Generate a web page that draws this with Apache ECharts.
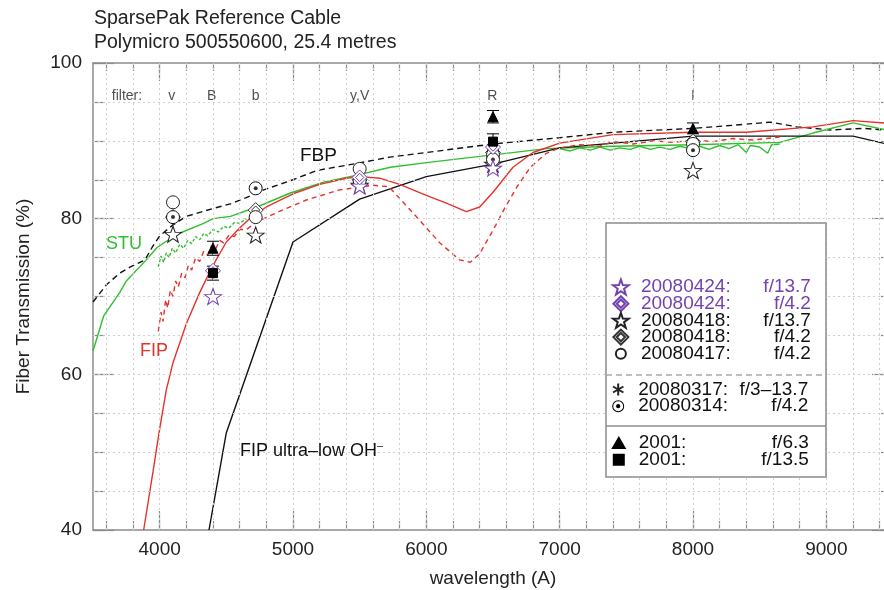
<!DOCTYPE html>
<html>
<head>
<meta charset="utf-8">
<title>SparsePak Reference Cable</title>
<script src="https://cdn.jsdelivr.net/npm/echarts@6/dist/echarts.min.js"></script>
<style>
  html, body { margin: 0; padding: 0; background: #fff; }
  #chart { width: 884px; height: 590px; }
</style>
</head>
<body>
<div id="chart"></div>
<script>
// axis ticks
const xMajor = [4000, 5000, 6000, 7000, 8000, 9000]
const xMinor = [3600, 3800, 4000, 4200, 4400, 4600, 4800, 5000, 5200, 5400, 5600, 5800, 6000, 6200, 6400,
  6600, 6800, 7000, 7200, 7400, 7600, 7800, 8000, 8200, 8400, 8600, 8800, 9000, 9200, 9400]
const yGrid = [45, 50, 55, 60, 65, 70, 75, 80, 85, 90, 95]

// filter labels along the top
const filterNames = ['filter:', 'v', 'B', 'b', 'y,V', 'R', 'I']
const filterX = [3755, 4090, 4390, 4720, 5500, 6495, 8000]
const filterY = 95.8

// transmission curves [wavelength, %]
const fbp = [[3500, 69.3], [3600, 71.5], [3700, 73], [3780, 73.8], [3890, 74.7], [3950, 76.5], [4000, 77.8],
  [4100, 79.2], [4200, 80.3], [4400, 81.3], [4530, 81.9], [4650, 82.7], [4780, 83.7], [5000, 85],
  [5180, 86.2], [5480, 87.1], [5725, 87.9], [6000, 88.5], [6500, 89.6], [7000, 90.4], [7400, 91.1],
  [8000, 91.6], [8300, 92], [8580, 92.4], [8780, 91.8], [9030, 91.4], [9280, 91.6], [9500, 91.3]]
const stu = [[3500, 63], [3580, 67.5], [3700, 70.5], [3750, 72], [3910, 74.9], [3980, 76.3], [4130, 78],
  [4330, 79.4], [4400, 80], [4530, 80.3], [4730, 81.5], [4980, 83.3], [5230, 84.7], [5480, 85.6],
  [5730, 86.6], [6000, 87.2], [6500, 88.2], [6900, 89], [7400, 89.3], [8000, 89.5], [8650, 89.8],
  [8900, 91], [9200, 92.3], [9500, 91.2]]
const stuNoisyBlue = [[3990, 73.8], [4010, 75.2], [4030, 74.4], [4050, 75.6], [4070, 75], [4095, 76.2],
  [4120, 75.6], [4150, 76.7], [4180, 76.2], [4210, 77.2], [4240, 76.8], [4270, 77.7], [4300, 77.3],
  [4330, 78.1], [4360, 77.8], [4400, 78.6], [4440, 78.3], [4480, 79], [4520, 78.8], [4560, 79.5],
  [4600, 79.4], [4650, 80]]
const stuNoisyRed = [[7000, 89.0], [7080, 88.7], [7150, 89.1], [7230, 88.8], [7300, 89.2], [7380, 88.8],
  [7450, 89.1], [7530, 88.9], [7600, 89.3], [7680, 88.9], [7750, 89.2], [7830, 88.9], [7900, 89.3],
  [7980, 89.0], [8050, 89.3], [8120, 88.9], [8200, 89.4], [8270, 89.0], [8340, 89.5], [8400, 88.5],
  [8430, 89.4], [8500, 89.2], [8560, 88.4], [8590, 89.5], [8650, 89.6]]
const fip = [[3880, 40], [3950, 47.5], [4000, 53], [4050, 58], [4100, 61.5], [4200, 66.5], [4300, 70.5],
  [4400, 74], [4500, 77], [4600, 78.8], [4700, 80.4], [4800, 81.5], [5000, 83.2], [5200, 84.4],
  [5400, 85.2], [5500, 85.4], [5650, 85.2], [5800, 84.4], [5900, 83.7], [6000, 83], [6150, 82],
  [6300, 80.9], [6400, 81.5], [6500, 83.4], [6650, 86.6], [6800, 88.5], [7000, 89.7], [7400, 90.8],
  [8000, 91.1], [8400, 91.1], [8900, 91.8], [9200, 92.6], [9500, 92.2]]
const fipDashed = [[3990, 65.5], [4010, 68], [4025, 66.8], [4045, 69.6], [4060, 68.5], [4080, 70.8],
  [4100, 70], [4120, 72], [4140, 71.2], [4165, 73], [4190, 72.4], [4215, 74], [4240, 73.4], [4270, 75],
  [4300, 74.5], [4330, 75.8], [4360, 75.3], [4390, 76.6], [4420, 76.1], [4450, 77.2], [4480, 76.9],
  [4520, 77.9], [4560, 77.7], [4600, 78.6], [4650, 78.6], [4730, 79.6], [4880, 80.8], [5100, 82.4],
  [5350, 83.7], [5600, 84.3], [5720, 84.1], [5800, 82.6], [5950, 79.8], [6100, 76.9], [6250, 74.7],
  [6330, 74.4], [6400, 75.5], [6500, 78.5], [6580, 81.1], [6680, 84.1], [6780, 86.6], [6900, 88.4],
  [7000, 89.1], [7150, 89.5], [7300, 89.3], [7400, 89.9], [7550, 89.6], [7700, 90], [7850, 89.8],
  [8000, 90.1], [8150, 89.9], [8300, 90.3], [8450, 90.1], [8650, 90.5]]
const fipUltraLowOH = [[4370, 40], [4500, 52.5], [5000, 77], [5500, 82.5], [6000, 85.4], [6500, 87],
  [7000, 89.1], [8000, 90.6], [9200, 90.6], [9500, 89.4]]

// measured points [wavelength, %] (2001: [wavelength, %, error])
const p20080424f137 = [[4400, 70.0], [5500, 84.2], [6500, 86.5]]
const p20080424f42 = [[4400, 73.3], [5500, 85.3], [6500, 89.2]]
const p20080418f137 = [[4100, 78.0], [4720, 77.9], [5500, 84.3], [6500, 87.0], [8000, 86.2]]
const p20080418f42 = [[4100, 80.2], [4720, 81.1], [5500, 85.0], [6500, 88.5], [8000, 89.9]]
const p20080417f42 = [[4100, 82.1], [4720, 80.2], [5500, 86.4], [6500, 88.2], [8000, 89.6]]
const p20080317 = []
const p20080314f42 = [[4100, 80.2], [4720, 83.9], [5500, 84.9], [6500, 87.6], [8000, 88.8]]
const p2001f63 = [[4400, 76.2, 0.9], [6500, 93.1, 0.8], [8000, 91.6, 0.7]]
const p2001f135 = [[4400, 73.0, 0.9], [6500, 89.9, 1.0]]

const FONT = '"Liberation Sans", Arial, sans-serif'
const PURPLE = '#7442b0'
const GREEN = '#2fbf2f'
const RED = '#e5322b'
const FRAME = '#8c8c8c'

const STAR = 'path://M0,-10 L2.35,-3.24 L9.51,-3.09 L3.8,1.24 L5.88,8.09 L0,4 L-5.88,8.09 L-3.8,1.24 L-9.51,-3.09 L-2.35,-3.24 Z'
const DIAMOND2 = 'path://M0,-10 L10,0 L0,10 L-10,0 Z M0,-5.5 L5.5,0 L0,5.5 L-5.5,0 Z'
const ASTER = 'path://M0,-10 L0,10 M-8.66,-5 L8.66,5 M-8.66,5 L8.66,-5'
const RINGDOT = 'path://M0,-10 A10,10 0 1,1 0,10 A10,10 0 1,1 0,-10 Z M0,-8.3 A8.3,8.3 0 1,0 0,8.3 A8.3,8.3 0 1,0 0,-8.3 Z M0,-3.6 A3.6,3.6 0 1,1 0,3.6 A3.6,3.6 0 1,1 0,-3.6 Z'
const TRI = 'path://M0,-5 L5.5,4.5 L-5.5,4.5 Z'
const SQUARE = 'path://M-5,-5 L5,-5 L5,5 L-5,5 Z'

function curve(name, data, color, type) {
  return {
    name: name, type: 'line', data: data, showSymbol: false, symbol: 'none', silent: true, z: 2,
    lineStyle: { color: color, width: 1.4, type: type || 'solid' }
  }
}

function marker(name, data, symbol, size, color, fill) {
  return {
    name: name, type: 'scatter', data: data, symbol: symbol, symbolSize: size, silent: true, z: 5,
    itemStyle: { color: fill, borderColor: color, borderWidth: 1, opacity: 1 }
  }
}

function renderErr(params, api) {
  const x = api.value(0), y = api.value(1), e = api.value(2)
  const hi = api.coord([x, y + e])
  const lo = api.coord([x, y - e])
  const w = 6
  const st = { stroke: '#000', lineWidth: 1 }
  return {
    type: 'group',
    children: [
      { type: 'line', shape: { x1: hi[0], y1: hi[1], x2: lo[0], y2: lo[1] }, style: st },
      { type: 'line', shape: { x1: hi[0] - w, y1: hi[1], x2: hi[0] + w, y2: hi[1] }, style: st },
      { type: 'line', shape: { x1: lo[0] - w, y1: lo[1], x2: lo[0] + w, y2: lo[1] }, style: st }
    ]
  }
}

function legendText(name) {
  const parts = name.split(': ')
  const p = name.indexOf('20080424') === 0 ? 'p' : ''
  return '{d' + p + '|' + parts[0] + ':}{f' + p + '|' + parts[1] + '}'
}

const rich = {
  d: { width: 100, fontSize: 19, lineHeight: 16, fontFamily: FONT, color: '#111' },
  f: { width: 70, align: 'right', fontSize: 19, lineHeight: 16, fontFamily: FONT, color: '#111' },
  dp: { width: 100, fontSize: 19, lineHeight: 16, fontFamily: FONT, color: PURPLE },
  fp: { width: 70, align: 'right', fontSize: 19, lineHeight: 16, fontFamily: FONT, color: PURPLE }
}

function legendBlock(top, iconH, data) {
  return {
    orient: 'vertical', left: 607, top: top, itemWidth: 30, itemHeight: iconH, itemGap: -2.3,
    selectedMode: false, z: 120, formatter: legendText,
    textStyle: { rich: rich, fontFamily: FONT, fontSize: 19 },
    data: data
  }
}

const chart = echarts.init(document.getElementById('chart'))

const labelStyle = { color: '#222', fontSize: 19, fontFamily: FONT }

const option = {
  animation: false,
  backgroundColor: '#fff',
  title: {
    text: 'SparsePak Reference Cable\nPolymicro 500550600, 25.4 metres',
    left: 89, top: 2,
    textStyle: { fontSize: 19.5, fontWeight: 'normal', fontFamily: FONT, color: '#222', lineHeight: 24 }
  },
  grid: { left: 93, right: -9, top: 63, bottom: 60, outerBoundsMode: 'none', containLabel: false },
  xAxis: [
    {
      type: 'value', position: 'bottom', min: 3500, max: 9500,
      name: 'wavelength (A)', nameLocation: 'middle', nameGap: 39,
      nameTextStyle: labelStyle,
      axisLine: { lineStyle: { color: FRAME, width: 1.5 } },
      axisTick: { inside: true, length: 19, customValues: xMajor, lineStyle: { color: FRAME, width: 1.2 } },
      axisLabel: { customValues: xMajor, margin: 10, formatter: v => String(v), ...labelStyle },
      splitLine: { show: false }
    },
    {
      type: 'value', position: 'bottom', min: 3500, max: 9500,
      axisLine: { show: false },
      axisTick: { inside: true, length: 9, customValues: xMinor, lineStyle: { color: FRAME, width: 1.2 } },
      axisLabel: { show: false }, splitLine: { show: false }
    },
    {
      type: 'value', position: 'top', min: 3500, max: 9500,
      axisLine: { lineStyle: { color: FRAME, width: 1.5 } },
      axisTick: { inside: true, length: 18, customValues: xMajor, lineStyle: { color: FRAME, width: 1.2 } },
      axisLabel: { show: false }, splitLine: { show: false }
    },
    {
      type: 'value', position: 'top', min: 3500, max: 9500,
      axisLine: { show: false },
      axisTick: { inside: true, length: 8, customValues: xMinor, lineStyle: { color: FRAME, width: 1.2 } },
      axisLabel: { show: false }, splitLine: { show: false }
    }
  ],
  yAxis: [
    {
      type: 'value', position: 'left', min: 40, max: 100, interval: 20,
      name: 'Fiber Transmission (%)', nameLocation: 'middle', nameGap: 60, nameRotate: 90,
      nameTextStyle: labelStyle,
      axisLine: { show: true, lineStyle: { color: FRAME, width: 1.5 } },
      axisTick: { show: true, inside: true, length: 21, lineStyle: { color: FRAME, width: 1.2 } },
      axisLabel: { margin: 11, ...labelStyle },
      splitLine: { show: false }
    },
    {
      type: 'value', position: 'left', min: 40, max: 100, interval: 5,
      axisLine: { show: false },
      axisTick: { show: true, inside: true, length: 12, lineStyle: { color: FRAME, width: 1.2 } },
      axisLabel: { show: false }, splitLine: { show: false }
    },
    {
      type: 'value', position: 'right', min: 40, max: 100, interval: 20,
      axisLine: { show: true, lineStyle: { color: FRAME, width: 1.5 } },
      axisTick: { show: true, inside: true, length: 21, lineStyle: { color: FRAME, width: 1.2 } },
      axisLabel: { show: false }, splitLine: { show: false }
    },
    {
      type: 'value', position: 'right', min: 40, max: 100, interval: 5,
      axisLine: { show: false },
      axisTick: { show: true, inside: true, length: 12, lineStyle: { color: FRAME, width: 1.2 } },
      axisLabel: { show: false }, splitLine: { show: false }
    }
  ],
  legend: [
    legendBlock(272.5, 15, ['20080424: f/13.7', '20080424: f/4.2', '20080418: f/13.7', '20080418: f/4.2',
      { name: '20080417: f/4.2', icon: 'path://M0,-10 A10,10 0 1,1 0,10 A10,10 0 1,1 0,-10 Z M0,-15 M0,15' }]),
    legendBlock(375, 12, ['20080317: f/3–13.7', { name: '20080314: f/4.2', icon: RINGDOT, itemStyle: { color: '#000', borderWidth: 0 } }]),
    legendBlock(428.5, 10, [{ name: '2001: f/6.3', icon: TRI }, { name: '2001: f/13.5', icon: SQUARE }])
  ],
  graphic: [
    { type: 'rect', z: 100, shape: { x: 606, y: 223, width: 220, height: 254 },
      style: { fill: '#fff', stroke: FRAME, lineWidth: 1.5 } },
    { type: 'line', z: 101, shape: { x1: 606, y1: 375, x2: 826, y2: 375 },
      style: { stroke: '#a8a8a8', lineWidth: 1.5, lineDash: [6, 4] } },
    { type: 'line', z: 101, shape: { x1: 606, y1: 426, x2: 826, y2: 426 },
      style: { stroke: FRAME, lineWidth: 1.5 } },
    { type: 'text', left: 106, top: 235, z: 50, style: { text: 'STU', fill: GREEN, fontSize: 18, fontFamily: FONT } },
    { type: 'text', left: 140, top: 342, z: 50, style: { text: 'FIP', fill: RED, fontSize: 18, fontFamily: FONT } },
    { type: 'text', left: 300, top: 146, z: 50, style: { text: 'FBP', fill: '#111', fontSize: 19, fontFamily: FONT } },
    { type: 'text', left: 240, top: 440, z: 50, style: {
      text: '{n|FIP ultra–low OH}{s|–}', fill: '#111',
      rich: { n: { fontSize: 18, fontFamily: FONT, color: '#111' },
              s: { fontSize: 11, fontFamily: FONT, color: '#111', padding: [0, 0, 12, 0] } } } }
  ],
  series: [
    {
      type: 'line', data: [], silent: true, z: 1,
      markLine: {
        silent: true, symbol: ['none', 'none'], label: { show: false }, animation: false,
        lineStyle: { color: '#cfcfcf', type: [2, 3], width: 1 },
        data: xMinor.map(v => ({ xAxis: v })).concat(yGrid.map(v => ({ yAxis: v })))
      }
    },
    {
      type: 'scatter', silent: true, z: 3, symbolSize: 0,
      data: filterNames.map((n, i) => ({ name: n, value: [filterX[i], filterY] })),
      label: { show: true, position: 'inside', formatter: '{b}', color: '#222', fontSize: 14, fontFamily: FONT }
    },
    curve('FBP', fbp, '#111', [6, 4]),
    curve('STU', stu, GREEN),
    curve('STU noisy a', stuNoisyBlue, GREEN, [3, 2]),
    curve('STU noisy b', stuNoisyRed, GREEN),
    curve('FIP ultra-low OH', fipUltraLowOH, '#111'),
    curve('FIP', fip, RED),
    curve('FIP dashed', fipDashed, RED, [5, 4]),
    {
      type: 'custom', silent: true, z: 4, renderItem: renderErr,
      encode: { x: 0, y: 1 }, data: p2001f63.concat(p2001f135)
    },
    marker('20080418: f/13.7', p20080418f137, STAR, [17, 16], '#222', '#fff'),
    marker('20080418: f/4.2', p20080418f42, DIAMOND2, 15, '#333', '#fff'),
    marker('20080417: f/4.2', p20080417f42, 'circle', 13, '#222', '#fff'),
    marker('20080317: f/3–13.7', p20080317, ASTER, 13, '#222', 'rgba(0,0,0,0)'),
    marker('20080314: f/4.2', p20080314f42, 'circle', 13, '#111', '#fff'),
    {
      type: 'scatter', silent: true, z: 5, data: p20080314f42, symbol: 'circle', symbolSize: 4,
      itemStyle: { color: '#000' }
    },
    marker('20080424: f/13.7', p20080424f137, STAR, [17, 16], PURPLE, '#fff'),
    marker('20080424: f/4.2', p20080424f42, DIAMOND2, 15, PURPLE, '#fff'),
    marker('2001: f/6.3', p2001f63, 'triangle', 10, '#000', '#000'),
    marker('2001: f/13.5', p2001f135, 'rect', 9, '#000', '#000')
  ]
}

chart.setOption(option)
</script>
</body>
</html>
